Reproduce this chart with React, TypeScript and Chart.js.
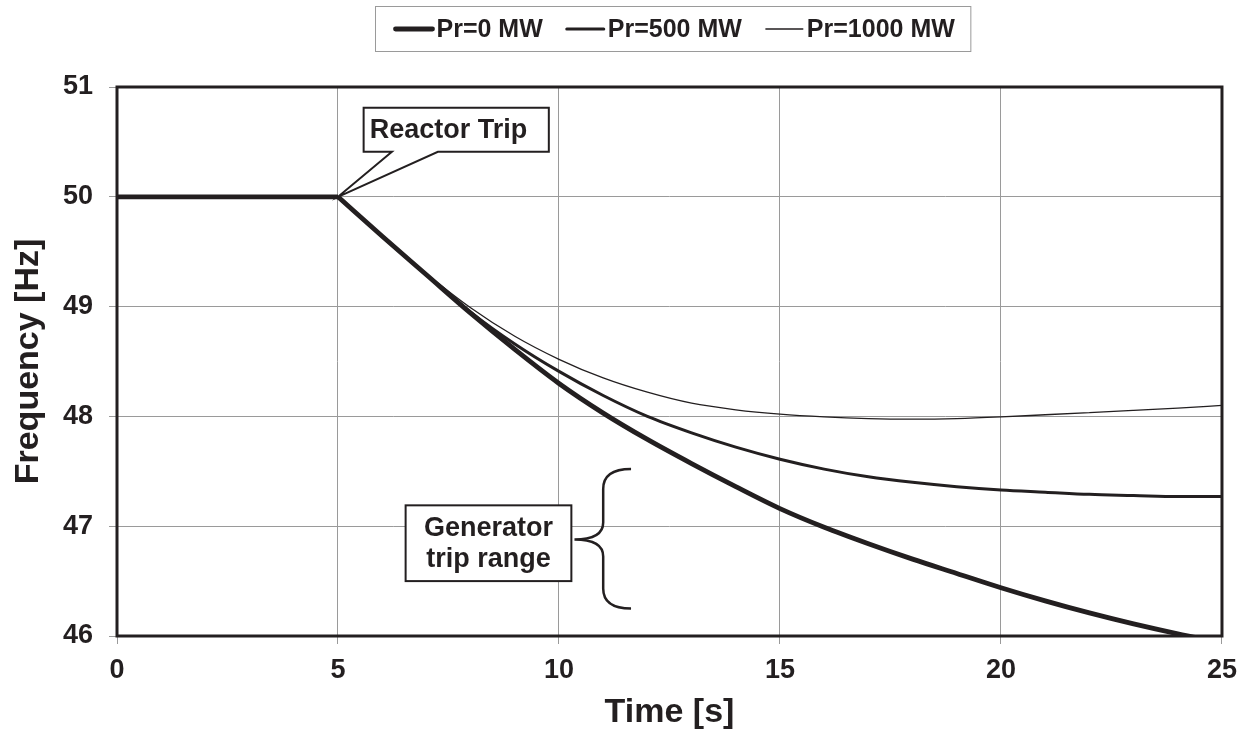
import React, { useEffect, useRef } from "react";
import { Chart, registerables } from "chart.js";

Chart.register(...registerables);

const times = [0, 1, 2, 3, 4, 5, 6, 7, 8, 9, 10, 11, 12, 13, 14, 15, 16, 17, 18, 19, 20, 21, 22, 23, 24, 25];
const pr0 = [50, 50, 50, 50, 50, 50, 49.64, 49.29, 48.94, 48.61, 48.3, 48.03, 47.79, 47.57, 47.36, 47.16, 46.99, 46.84, 46.7, 46.57, 46.44, 46.32, 46.21, 46.11, 46.02, 45.94];
const pr500 = [50, 50, 50, 50, 50, 50, 49.64, 49.29, 48.95, 48.66, 48.41, 48.19, 48.0, 47.85, 47.72, 47.61, 47.52, 47.45, 47.4, 47.36, 47.33, 47.31, 47.29, 47.28, 47.27, 47.27];
const pr1000 = [50, 50, 50, 50, 50, 50, 49.64, 49.3, 48.99, 48.73, 48.52, 48.35, 48.22, 48.12, 48.06, 48.02, 47.995, 47.98, 47.975, 47.98, 47.995, 48.015, 48.035, 48.055, 48.075, 48.1];
const tripTime = 5;
const seriesLabels = ["Pr=0 MW", "Pr=500 MW", "Pr=1000 MW"];
const seriesWidths = [4.8, 3, 1.3];
const xTitle = "Time [s]";
const yTitle = "Frequency [Hz]";
const reactorLabel = "Reactor Trip";
const generatorLabel = ["Generator", "trip range"];

const DARK = "#231f20";
const GRID = "#9a9a9a";
const FAMILY = "'Liberation Sans', Arial, Helvetica, sans-serif";

const overlayPlugin = {
  id: "overlay",
  afterDatasetsDraw(chart: any) {
    const { ctx, chartArea: a, scales } = chart;
    const x = scales.x;
    const y = scales.y;
    const px = (v: number) => x.getPixelForValue(v);
    const py = (v: number) => y.getPixelForValue(v);
    ctx.save();
    ctx.strokeStyle = DARK;
    ctx.lineWidth = 3;
    ctx.strokeRect(a.left, a.top, a.right - a.left, a.bottom - a.top);

    // Reactor trip callout
    const bl = px(5.58), br = px(9.77), bt = py(50.81), bb = py(50.41);
    const n1 = px(6.22), n2 = px(7.26);
    const ax = px(5), ay = py(50);
    ctx.beginPath();
    ctx.moveTo(bl, bt);
    ctx.lineTo(br, bt);
    ctx.lineTo(br, bb);
    ctx.lineTo(n2, bb);
    ctx.lineTo(ax, ay);
    ctx.lineTo(n1, bb);
    ctx.lineTo(bl, bb);
    ctx.closePath();
    ctx.fillStyle = "#ffffff";
    ctx.fill();
    ctx.lineWidth = 2;
    ctx.lineJoin = "miter";
    ctx.strokeStyle = DARK;
    ctx.stroke();
    ctx.fillStyle = DARK;
    ctx.font = `bold 27px ${FAMILY}`;
    ctx.textAlign = "left";
    ctx.textBaseline = "middle";
    ctx.fillText(reactorLabel, bl + 6, (bt + bb) / 2 + 1);

    // Generator trip range box
    const gl = px(6.53), gr = px(10.28), gt = py(47.19), gb = py(46.5);
    ctx.fillStyle = "#ffffff";
    ctx.fillRect(gl, gt, gr - gl, gb - gt);
    ctx.strokeRect(gl, gt, gr - gl, gb - gt);
    ctx.fillStyle = DARK;
    ctx.textAlign = "center";
    const gcx = (gl + gr) / 2, gcy = (gt + gb) / 2;
    ctx.fillText(generatorLabel[0], gcx, gcy - 15);
    ctx.fillText(generatorLabel[1], gcx, gcy + 16);

    // brace
    const bx = px(11.0), be = px(11.63), btip = px(10.35);
    const yTop = py(47.52), yBot = py(46.25), yMid = py(46.88);
    ctx.beginPath();
    ctx.moveTo(be, yTop);
    ctx.quadraticCurveTo(bx, yTop, bx, yTop + 20);
    ctx.lineTo(bx, yMid - 17);
    ctx.quadraticCurveTo(bx, yMid, btip, yMid);
    ctx.quadraticCurveTo(bx, yMid, bx, yMid + 17);
    ctx.lineTo(bx, yBot - 20);
    ctx.quadraticCurveTo(bx, yBot, be, yBot);
    ctx.lineWidth = 2.5;
    ctx.stroke();
    ctx.restore();
  },
  afterDraw(chart: any) {
    const { ctx, chartArea: a } = chart;
    ctx.save();
    ctx.font = `bold 25px ${FAMILY}`;
    const items = seriesLabels.map((label, i) => ({
      label,
      w: seriesWidths[i],
      tw: ctx.measureText(label).width,
    }));
    const lineLen = 37, gap = 4, itemGap = 24, padL = 20, padR = 16;
    const inner = items.reduce((s: number, it: any) => s + lineLen + gap + it.tw, 0) + itemGap * (items.length - 1);
    const boxW = padL + inner + padR;
    const cx = (a.left + a.right) / 2 + 3;
    const left = Math.round(cx - boxW / 2) + 0.5;
    const top = 6.5, h = 45;
    ctx.fillStyle = "#ffffff";
    ctx.fillRect(left, top, boxW, h);
    ctx.strokeStyle = GRID;
    ctx.lineWidth = 1;
    ctx.strokeRect(left, top, boxW, h);
    const cy = top + h / 2;
    let cur = left + padL;
    ctx.textAlign = "left";
    ctx.textBaseline = "middle";
    items.forEach((it: any) => {
      ctx.beginPath();
      ctx.moveTo(cur, cy);
      ctx.lineTo(cur + lineLen, cy);
      ctx.strokeStyle = DARK;
      ctx.lineWidth = it.w;
      ctx.lineCap = "round";
      ctx.stroke();
      cur += lineLen + gap;
      ctx.fillStyle = DARK;
      ctx.fillText(it.label, cur, cy + 1);
      cur += it.tw + itemGap;
    });
    ctx.restore();
  },
};

export default function App() {
  const ref = useRef<HTMLCanvasElement | null>(null);
  useEffect(() => {
    if (!ref.current) return;
    const all = [pr0, pr500, pr1000];
    const before = (vals: number[]) =>
      times.map((t, i) => ({ x: t, y: vals[i] })).filter((p) => p.x <= tripTime);
    const after = (vals: number[]) =>
      times.map((t, i) => ({ x: t, y: vals[i] })).filter((p) => p.x >= tripTime);
    const datasets: any[] = [];
    all.forEach((vals, i) => {
      datasets.push({
        label: seriesLabels[i],
        data: after(vals),
        borderColor: DARK,
        borderWidth: seriesWidths[i],
        pointRadius: 0,
        cubicInterpolationMode: "monotone",
      });
    });
    all.forEach((vals, i) => {
      datasets.push({
        label: seriesLabels[i] + " ",
        data: before(vals),
        borderColor: DARK,
        borderWidth: seriesWidths[i],
        pointRadius: 0,
      });
    });
    const chart = new Chart(ref.current, {
      type: "line",
      data: { datasets },
      options: {
        animation: false,
        responsive: false,
        devicePixelRatio: 1,
        layout: { padding: { top: 87, right: 24, left: 0, bottom: 0 } },
        plugins: { legend: { display: false }, tooltip: { enabled: false } },
        scales: {
          x: {
            type: "linear",
            min: 0,
            max: 25,
            ticks: { stepSize: 5, color: DARK, font: { family: FAMILY, size: 27, weight: "bold" }, padding: 10 },
            grid: { color: GRID, lineWidth: 1, tickLength: 8 },
            border: { display: false },
            title: { display: true, text: xTitle, color: DARK, font: { family: FAMILY, size: 34, weight: "bold" }, padding: { top: 0, bottom: 11 } },
            afterFit: (s: any) => { s.height = 108; },
          },
          y: {
            type: "linear",
            min: 46,
            max: 51,
            ticks: { stepSize: 1, color: DARK, font: { family: FAMILY, size: 27, weight: "bold" }, padding: 16 },
            grid: { color: GRID, lineWidth: 1, tickLength: 8 },
            border: { display: false },
            title: { display: true, text: yTitle, color: DARK, font: { family: FAMILY, size: 34, weight: "bold" }, padding: { top: 8, bottom: 0 } },
            afterFit: (s: any) => { s.width = 117; },
          },
        },
      },
      plugins: [overlayPlugin],
    } as any);
    return () => chart.destroy();
  }, []);
  return (
    <div style={{ position: "absolute", left: 0, top: 0, width: 1247, height: 744, background: "#fff" }}>
      <canvas ref={ref} width={1247} height={744} style={{ display: "block" }} />
    </div>
  );
}
